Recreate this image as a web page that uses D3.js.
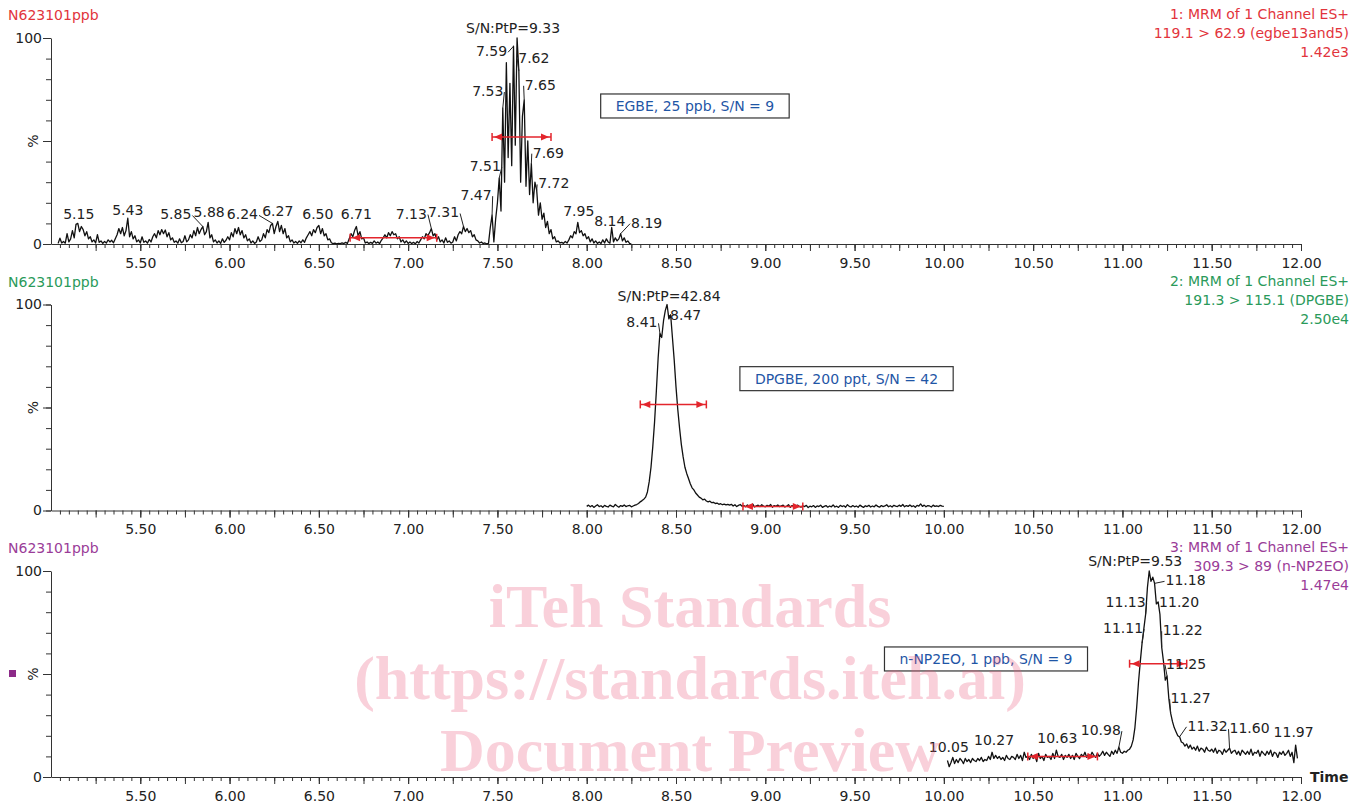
<!DOCTYPE html>
<html>
<head>
<meta charset="utf-8">
<script src="https://cdn.jsdelivr.net/npm/d3@7"></script>
<style>
  body { margin: 0; background: #fff; }
  svg text { font-family: "DejaVu Sans", Verdana, sans-serif; }
</style>
</head>
<body>
<svg id="chart" width="1362" height="806"></svg>
<script>
// ---- data ----
const sampleName = "N623101ppb";
const channelLines = [
  ["1: MRM of 1 Channel ES+", "119.1 > 62.9 (egbe13and5)", "1.42e3"],
  ["2: MRM of 1 Channel ES+", "191.3 > 115.1 (DPGBE)", "2.50e4"],
  ["3: MRM of 1 Channel ES+", "309.3 > 89 (n-NP2EO)", "1.47e4"]
];
const boxTexts = ["EGBE, 25 ppb, S/N = 9", "DPGBE, 200 ppt, S/N = 42", "n-NP2EO, 1 ppb, S/N = 9"];
const snTexts = ["S/N:PtP=9.33", "S/N:PtP=42.84", "S/N:PtP=9.53"];
const xTickLabels = ["5.50","6.00","6.50","7.00","7.50","8.00","8.50","9.00","9.50","10.00","10.50","11.00","11.50","12.00"];

const scanStep = 0.01;           // minutes between scans
const traceStarts = [5.04, 8.00, 10.02];

// EGBE, 5.04 -> 8.25 min, % of 1.42e3
const egbeValues = [
  0.3, 2.8, 0.5, 1.2, 0.4, 5.0,
  1.0, 2.5, 6.5, 3.0, 9.5, 10.0, 6.0, 8.5, 7.0, 4.0,
  6.0, 2.5, 3.5, 1.0, 2.0, 0.5, 4.5, 0.8, 1.5, 0.3,
  1.2, 0.5, 2.0, 1.0, 1.8, 0.6, 2.5, 4.5, 7.5, 5.0,
  8.0, 4.0, 6.5, 12.5, 3.5, 6.0, 2.5, 4.0, 1.0, 2.0,
  0.5, 3.5, 0.8, 1.5, 0.4, 2.2, 1.0, 3.5, 5.0, 3.0,
  6.5, 4.5, 7.0, 5.0, 6.8, 3.5, 5.5, 2.0, 3.0, 0.8,
  1.5, 0.4, 2.5, 0.6, 1.2, 4.0, 1.0, 2.0, 4.5, 3.0,
  6.5, 4.0, 8.0, 5.0, 7.0, 8.5, 4.5, 6.0, 10.5, 3.0,
  4.5, 1.0, 2.0, 0.5, 1.5, 0.3, 2.5, 0.8, 1.8, 3.5,
  2.0, 5.5, 3.5, 7.5, 5.0, 8.0, 4.5, 6.5, 3.0, 4.5,
  1.5, 2.5, 0.5, 1.5, 0.3, 1.0, 3.5, 1.2, 2.0, 5.0,
  3.0, 7.0, 5.5, 9.0, 10.0, 5.0, 8.5, 11.0, 6.0, 9.0,
  5.0, 7.5, 3.0, 4.0, 1.0, 2.0, 0.5, 1.2, 0.3, 1.5,
  0.6, 2.0, 0.8, 3.0, 4.5, 6.0, 4.0, 7.0, 5.5, 8.0,
  9.0, 5.0, 7.5, 4.0, 5.0, 2.0, 2.5, 0.6, 0.2, 0.4,
  0.1, 0.3, 0.2, 0.5, 0.2, 0.8, 0.3, 2.5, 5.0, 3.5,
  6.5, 8.5, 4.0, 6.0, 2.5, 3.0, 0.5, 1.0, 0.2, 0.8,
  0.3, 1.5, 0.4, 1.0, 0.2, 1.8, 3.0, 4.5, 3.0, 5.5,
  4.0, 6.0, 4.5, 5.0, 2.5, 3.5, 1.0, 2.0, 0.5, 1.5,
  0.3, 1.0, 0.2, 0.8, 0.1, 1.2, 0.5, 2.0, 3.5, 2.5,
  5.0, 4.0, 5.5, 7.5, 4.0, 5.0, 2.0, 3.5, 1.0, 2.0,
  0.5, 3.0, 0.8, 1.5, 0.4, 1.0, 3.5, 1.5, 4.5, 6.0,
  5.0, 8.5, 6.0, 7.5, 5.5, 6.5, 3.5, 4.5, 2.0, 1.5,
  0.5, 1.0, 0.2, 0.5, 0.1, 0.3, 8.0, 14.0, 1.0, 12.0,
  20, 32, 16, 66, 30, 88, 42, 78, 38, 96,
  48, 100, 84, 30, 62, 70, 28, 50, 24, 39,
  20, 30, 26, 14, 20, 12, 15, 8, 11, 5,
  7, 2.5, 3.5, 1.0, 1.5, 0.5, 0.8, 0.3, 1.2, 0.5,
  2.0, 4.0, 3.0, 6.0, 5.0, 10.5, 5.5, 6.5, 4.0, 5.0,
  2.5, 3.5, 1.0, 2.5, 0.5, 1.5, 0.3, 1.0, 0.2, 2.0,
  0.5, 2.5, 1.0, 0.4, 8.0, 1.0, 3.0, 1.5, 2.5, 5.0,
  1.5, 3.0, 0.8, 1.5, 0.3, 0.0
];

// DPGBE, 8.00 -> 10.00 min, % of 2.50e4
const dpgbeValues = [
  2.0, 2.6, 1.8, 2.4, 1.5, 2.2, 2.8, 1.9, 2.3, 1.6,
  2.5, 2.0, 1.7, 2.6, 2.1, 1.8, 2.9, 2.2, 1.6, 2.4,
  2.0, 2.7, 1.9, 2.3, 2.5, 1.8, 2.2, 2.6, 2.9, 3.4,
  4.2, 4.8, 5.5, 6.5, 9, 14, 21, 31, 43, 58,
  74, 86, 84, 92, 97, 100, 93, 95, 84, 73,
  60, 49, 40, 32, 26, 21, 18, 15.5, 13, 11,
  10, 8.5, 7.5, 6.5, 6, 5.2, 5.5, 4.6, 4.2, 4.5,
  3.8, 4.0, 3.4, 3.6, 3.0, 3.3, 2.8, 3.1, 2.7, 3.0,
  2.6, 3.0, 2.2, 2.8, 1.9, 2.5, 2.9, 2.1, 2.4, 1.8,
  2.7, 2.0, 2.5, 3.1, 1.7, 2.3, 2.6, 1.9, 2.8, 2.2,
  1.8, 2.5, 2.1, 2.9, 1.6, 2.4, 2.0, 2.7, 1.9, 2.3,
  2.6, 1.7, 2.2, 2.8, 1.5, 2.4, 2.1, 1.8, 2.6, 2.0,
  1.6, 2.3, 1.9, 2.5, 1.4, 2.1, 1.8, 2.4, 1.5, 2.2,
  1.9, 2.6, 1.5, 2.0, 2.4, 1.6, 2.2, 1.8, 2.7, 1.7,
  2.1, 1.5, 2.5, 1.9, 2.3, 1.6, 2.8, 2.0, 1.7, 2.4,
  1.8, 2.2, 1.6, 2.6, 2.0, 1.5, 2.3, 1.9, 2.5, 1.7,
  2.2, 1.8, 2.7, 2.0, 1.6, 2.4, 1.9, 2.2, 2.8, 1.8,
  2.3, 1.7, 2.5, 2.1, 1.9, 2.6, 2.0, 2.9, 1.8, 2.4,
  2.0, 2.7, 1.9, 2.3, 1.6, 2.5, 2.1, 3.2, 2.0, 2.6,
  1.8, 2.4, 2.2, 1.7, 2.6, 2.0, 2.3, 1.9, 2.5, 2.1,
  2.0
];

// n-NP2EO, 10.02 -> 11.98 min, % of 1.47e4
const np2eoValues = [
  8, 5, 7, 9.5, 6.5, 8.5, 7, 9,
  8, 6.5, 9, 7.5, 8.5, 7, 9, 8, 7.5, 9,
  8, 9.5, 7.5, 8.5, 8, 10, 8.5, 12, 9, 10.5,
  9, 10, 8.5, 9.5, 8, 10.5, 9, 8.5, 10, 9.5,
  8.5, 11, 9, 10.5, 8, 12, 9.5, 10, 8.5, 11,
  9, 10.5, 7.5, 11.5, 9, 10, 8, 11, 9.5, 10,
  8.5, 11.5, 9, 13, 10, 9.5, 11, 8.5, 10.5, 9.5,
  11, 9, 10.5, 8.5, 11.5, 10, 9, 11, 10, 12,
  9.5, 11, 10, 12, 10.5, 9.5, 11.5, 10, 11, 12.5,
  10.5, 12, 11, 10, 12.5, 11, 13, 11.5, 14.5, 12,
  11.5, 12.5, 12, 13, 13.5, 15, 18, 24, 34, 46,
  56, 65, 72, 79, 92, 100, 95, 97, 94, 84,
  85, 79, 63, 56, 47, 49, 38, 31, 27, 24,
  22, 20, 19.5, 17, 16.5, 15, 16, 14, 15.5, 13.5,
  14.5, 13, 15, 12.5, 14, 13.5, 12, 14.5, 13, 12.5,
  13.5, 12, 14, 11.5, 13, 12.5, 11, 13.5, 12, 13,
  14, 11.5, 12.5, 13, 11, 12.5, 10.5, 13, 12, 11,
  12.5, 11, 13.5, 10.5, 12, 11.5, 13, 10, 12.5, 11.5,
  10.5, 12.5, 11, 13, 10, 12, 11.5, 9.5, 12, 11,
  12.5, 10.5, 11.5, 13, 10, 12, 7, 15.5, 9
];

const egbePeaks = [5.15, 5.43, 5.85, 5.88, 6.24, 6.27, 6.50, 6.71, 7.13, 7.31, 7.47, 7.51, 7.53, 7.59, 7.62, 7.65, 7.69, 7.72, 7.95, 8.14, 8.19];
const dpgbePeaks = [8.41, 8.47];
const np2eoPeaks = [10.05, 10.27, 10.63, 10.98, 11.11, 11.13, 11.18, 11.20, 11.22, 11.25, 11.27, 11.32, 11.60, 11.97];

// [start min, end min, level %]
const widthMarkers = [[7.47, 7.80, 52], [8.30, 8.67, 51.5], [11.04, 11.36, 55]];
const noiseMarkers = [[6.675, 7.16, 3], [8.875, 9.21, 2], [10.47, 10.86, 10]];

const watermarkLines = ["iTeh Standards", "(https://standards.iteh.ai)", "Document Preview"];

// ---- layout / style ----
const channelColors = ["#e2343c", "#2a9a5a", "#9a3c98"];
const panelOffsets = [0, 266.5, 533];
const boxAnchors = [[8.606, 67], [9.455, 64], [10.236, 57.3]];   // box centres in (min, %)
// label offsets in px from the peak apex [dx, dy]
const labelNudge = {
  "5.15": [1, -4], "5.43": [0, -3], "5.85": [-27, -7], "5.88": [1, -5], "6.24": [-30, -4],
  "6.27": [0, -5], "6.50": [-1, -6], "6.71": [0, -7], "7.13": [-20, -10], "7.31": [-20, -9],
  "7.47": [-16, -15], "7.51": [-14, -7], "7.53": [-15, -12], "7.59": [-22, 10], "7.62": [15, -8],
  "7.65": [16, -10], "7.69": [17, -6], "7.72": [17, -2], "7.95": [1, -6], "8.14": [-2, -2],
  "8.19": [26, -6],
  "8.41": [-18, -6], "8.47": [15, 5],
  "10.05": [-4, -5], "10.27": [2, -7], "10.63": [1, -7], "10.98": [-18, -12], "11.11": [-19, -10],
  "11.13": [-20, -7], "11.18": [31, 2], "11.20": [21, 5], "11.22": [21, -12], "11.25": [19, -7],
  "11.27": [20, -10], "11.32": [28, -6], "11.60": [20, -15], "11.97": [-2, -8]
};
const snNudge = [[-4, -5], [2, -4], [-14, -5]];

const svg = d3.select("#chart");
const x = d3.scaleLinear().domain([5, 12]).range([51, 1301]);
const axisColor = "#333";
const redMark = "#e3252c";

const traces = [egbeValues, dpgbeValues, np2eoValues];
const peakLists = [egbePeaks, dpgbePeaks, np2eoPeaks];

function tickValuesBy(stepHundredths) {
  return d3.range(500 + stepHundredths, 1201, stepHundredths).map(d => d / 100);
}

function styleAxis(g) {
  g.attr("font-family", null).attr("font-size", 14);
  g.selectAll("line").attr("stroke", axisColor);
  g.selectAll("path").attr("stroke", axisColor);
  g.selectAll("text").attr("fill", "#222");
}

function drawMarker(g, y, m) {
  const x0 = x(m[0]), x1 = x(m[1]), yy = y(m[2]);
  g.append("line").attr("x1", x0).attr("x2", x1).attr("y1", yy).attr("y2", yy)
    .attr("stroke", redMark).attr("stroke-width", 1.5);
  [x0, x1].forEach(xx => {
    g.append("line").attr("x1", xx).attr("x2", xx).attr("y1", yy - 4).attr("y2", yy + 4)
      .attr("stroke", redMark).attr("stroke-width", 1.5);
  });
  g.append("path").attr("fill", redMark)
    .attr("d", `M${x0 + 2},${yy} L${x0 + 10},${yy - 3.5} L${x0 + 10},${yy + 3.5} Z`);
  g.append("path").attr("fill", redMark)
    .attr("d", `M${x1 - 2},${yy} L${x1 - 10},${yy - 3.5} L${x1 - 10},${yy + 3.5} Z`);
}

function addLabel(g, ax, ay, dx, dy, text) {
  const t = g.append("text")
    .attr("x", ax + dx).attr("y", ay + dy)
    .attr("text-anchor", "middle").attr("font-size", 14).attr("fill", "#222")
    .text(text);
  if (Math.abs(dx) > 5) {
    const w = t.node().getComputedTextLength() / 2;
    const ex = dx < 0 ? ax + dx + w + 1 : ax + dx - w - 1;
    g.append("line").attr("x1", ax).attr("y1", ay).attr("x2", ex).attr("y2", ay + dy - 4)
      .attr("stroke", "#222").attr("stroke-width", 1);
  }
}

panelOffsets.forEach((off, i) => {
  const g = svg.append("g").attr("transform", `translate(0,${off})`);
  const y = d3.scaleLinear().domain([0, 100]).range([244, 38]);
  const base = y(0);
  const color = channelColors[i];

  // headers
  g.append("text").attr("x", 8).attr("y", 20).attr("font-size", 14).attr("fill", color).text(sampleName);
  channelLines[i].forEach((line, k) => {
    g.append("text").attr("x", 1349).attr("y", 19 + k * 19).attr("text-anchor", "end")
      .attr("font-size", 14).attr("fill", color).text(line);
  });

  // x axis: minor 0.05, mid 0.25, labels every 0.5
  g.append("g").attr("transform", `translate(0,${base})`)
    .call(d3.axisBottom(x).tickValues(tickValuesBy(5)).tickSize(4).tickFormat("").tickSizeOuter(0))
    .call(styleAxis);
  g.append("g").attr("transform", `translate(0,${base})`)
    .call(d3.axisBottom(x).tickValues(tickValuesBy(25)).tickSize(7).tickFormat("").tickSizeOuter(0))
    .call(styleAxis).select(".domain").remove();
  g.append("g").attr("transform", `translate(0,${base})`)
    .call(d3.axisBottom(x).tickValues(xTickLabels.map(Number)).tickSize(7).tickPadding(7)
      .tickFormat((d, k) => xTickLabels[k]).tickSizeOuter(0))
    .call(styleAxis).select(".domain").remove();

  // y axis
  g.append("g").attr("transform", `translate(${x(5)},0)`)
    .call(d3.axisLeft(y).tickValues(d3.range(0, 101, 10)).tickSize(5).tickFormat("").tickSizeOuter(0))
    .call(styleAxis);
  g.append("g").attr("transform", `translate(${x(5)},0)`)
    .call(d3.axisLeft(y).tickValues([0, 50, 100]).tickSize(8).tickPadding(1)
      .tickFormat(d => d === 50 ? "" : d).tickSizeOuter(0))
    .call(styleAxis).select(".domain").remove();
  g.append("text").attr("transform", `translate(38,${y(50)}) rotate(-90)`)
    .attr("text-anchor", "middle").attr("font-size", 14).attr("fill", "#222").text("%");

  // trace
  const start = traceStarts[i];
  const values = traces[i];
  const pts = values.map((v, k) => [+(start + k * scanStep).toFixed(2), v]);
  g.append("path").datum(pts)
    .attr("fill", "none").attr("stroke", "#111").attr("stroke-width", 1.3)
    .attr("stroke-linejoin", "round")
    .attr("d", d3.line().x(d => x(d[0])).y(d => y(d[1])));

  // red width / noise markers
  drawMarker(g, y, widthMarkers[i]);
  drawMarker(g, y, noiseMarkers[i]);

  // peak labels
  peakLists[i].forEach(t => {
    const v = values[Math.round((t - start) / scanStep)];
    const key = t.toFixed(2);
    const [dx, dy] = labelNudge[key] || [0, -4];
    addLabel(g, x(t), y(v), dx, dy, key);
  });

  // S/N at the tallest scan
  const iMax = d3.maxIndex(values);
  const tMax = start + iMax * scanStep;
  g.append("text").attr("x", x(tMax) + snNudge[i][0]).attr("y", y(values[iMax]) + snNudge[i][1])
    .attr("text-anchor", "middle").attr("font-size", 14).attr("fill", "#222").text(snTexts[i]);

  // annotation box
  const bx = x(boxAnchors[i][0]), by = y(boxAnchors[i][1]);
  const box = g.append("rect").attr("fill", "#fff").attr("stroke", "#333").attr("stroke-width", 1.2);
  const bt = g.append("text").attr("x", bx).attr("y", by + 5).attr("text-anchor", "middle")
    .attr("font-size", 14).attr("fill", "#1f56a6").text(boxTexts[i]);
  const bw = bt.node().getComputedTextLength() + 30;
  box.attr("x", bx - bw / 2).attr("y", by - 12).attr("width", bw).attr("height", 24);

  if (i === 2) {
    g.append("rect").attr("x", 9).attr("y", y(50) - 4).attr("width", 7).attr("height", 7).attr("fill", "#8c2a88");
    g.append("text").attr("x", 1310).attr("y", base + 5).attr("font-size", 14)
      .attr("font-weight", "bold").attr("fill", "#222").text("Time");
  }
});

// watermark
svg.append("g").selectAll("text").data(watermarkLines).join("text")
  .attr("x", 690).attr("y", (d, k) => 627 + k * 72)
  .attr("text-anchor", "middle")
  .style("font-family", "'Liberation Serif', 'Times New Roman', serif")
  .attr("font-weight", "bold").attr("font-size", 62)
  .attr("fill", "#e8557a").attr("fill-opacity", 0.28)
  .text(d => d);
</script>
</body>
</html>
